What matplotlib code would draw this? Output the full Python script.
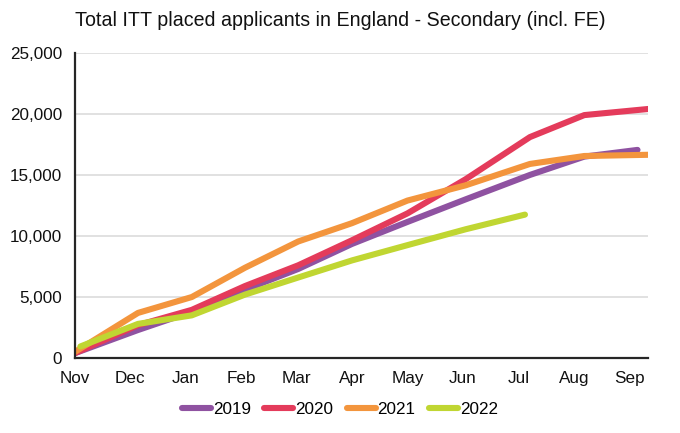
import matplotlib
matplotlib.use("Agg")
import matplotlib.pyplot as plt
from matplotlib.ticker import FuncFormatter

plt.rcParams['font.family'] = ['Liberation Sans', 'DejaVu Sans']

# Data (month positions: 0 = Nov ... 10 = Sep)
month_labels = ["Nov", "Dec", "Jan", "Feb", "Mar", "Apr", "May", "Jun", "Jul", "Aug", "Sep"]
x_common = [0, 1.14, 2.11, 3.07, 4.03, 5.0, 6.0, 7.05, 8.21, 9.19, 10.34]
x_2019 = [0, 1.14, 2.11, 3.07, 4.03, 5.0, 6.0, 7.05, 8.21, 9.19, 10.15]
x_2022 = [0.1, 1.14, 2.11, 3.07, 4.03, 5.0, 6.0, 7.05, 8.12]

y_2019 = [400, 2300, 3800, 5600, 7300, 9350, 11150, 13000, 15000, 16500, 17050]
y_2020 = [400, 2700, 3950, 5900, 7600, 9650, 11850, 14650, 18100, 19900, 20400]
y_2021 = [500, 3700, 5000, 7400, 9550, 11050, 12900, 14150, 15900, 16550, 16650]
y_2022 = [950, 2800, 3500, 5200, 6600, 8000, 9250, 10550, 11750]

series = [
    ("2019", x_2019, y_2019, "#8F52A1"),
    ("2020", x_common, y_2020, "#E43B5B"),
    ("2021", x_common, y_2021, "#F3953D"),
    ("2022", x_2022, y_2022, "#C0D632"),
]

fig = plt.figure(figsize=(6.8, 4.33), dpi=100)
ax = fig.add_axes([0.110, 0.173, 0.843, 0.705])

for label, xs, ys, color in series:
    ax.plot(xs, ys, color=color, lw=4.4, label=label,
            solid_capstyle='round', solid_joinstyle='round')

ax.set_xlim(0, 10.34)
ax.set_ylim(0, 25000)
ax.set_yticks(range(0, 25001, 5000))
ax.yaxis.set_major_formatter(FuncFormatter(lambda v, p: f"{int(v):,}"))
ax.set_xticks(range(len(month_labels)))
ax.set_xticklabels(month_labels)

ax.grid(axis='y', color='#D9D9D9', lw=1.1)
ax.set_axisbelow(True)
for s in ['top', 'right']:
    ax.spines[s].set_visible(False)
for s in ['left', 'bottom']:
    ax.spines[s].set_color('#262626')
    ax.spines[s].set_linewidth(1.6)

ax.tick_params(axis='y', length=0, pad=9, labelsize=12.3, colors='#111111')
ax.tick_params(axis='x', length=0, pad=9, labelsize=12.3, colors='#111111')

fig.text(75 / 680, 1 - 20 / 433, "Total ITT placed applicants in England - Secondary (incl. FE)",
         ha='left', va='center', fontsize=14.1, color='#111111')

fig.legend(loc='center', bbox_to_anchor=(0.5, 1 - 409 / 433), ncol=4, frameon=False,
           fontsize=12.3, handlelength=1.7, handletextpad=0.1, columnspacing=0.8)

fig.savefig("out.png", dpi=100)
